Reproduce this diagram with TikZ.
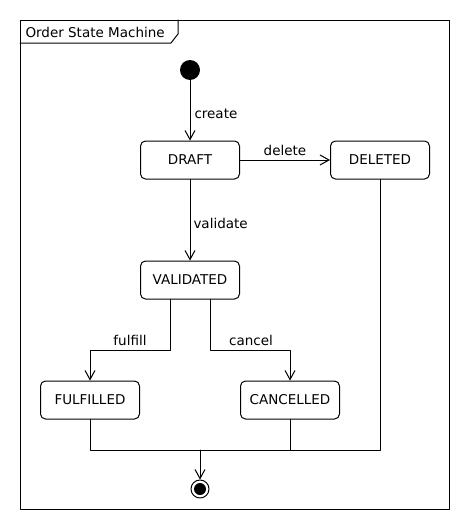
\documentclass[tikz,border=0pt]{standalone}
\usepackage{fontspec}
\setmainfont{DejaVu Sans}
\usepackage{tikz}
\usetikzlibrary{arrows.meta}

\tikzset{
  statebox/.style={draw,rounded corners=5pt,minimum width=99pt,minimum height=38pt,inner sep=0pt,font=\fontsize{13.5}{16}\selectfont},
  trlabel/.style={inner sep=0pt,font=\fontsize{13.5}{16}\selectfont},
}

\begin{document}
\begin{tikzpicture}[line cap=round,line join=round,>={Straight Barb[length=9pt,width=10pt]},x=1pt,y=-1pt,line width=1pt]
\useasboundingbox (0,0) rectangle (470,530);
% frame
\draw (20,20) rectangle (449,509);
\draw (20,43)-- (171,43)-- (178,34)-- (178,20);
\node[trlabel,anchor=west] (title) at (25,32) {Order State Machine};
% states
\node[circle,fill,inner sep=0pt,minimum size=20pt] (start) at (190,70) {};
\node[statebox] (draft) at (190,160) {DRAFT};
\node[statebox] (deleted) at (380,160) {DELETED};
\node[statebox] (validated) at (190,280) {VALIDATED};
\node[statebox] (fulfilled) at (90,400) {FULFILLED};
\node[statebox] (cancelled) at (290,400) {CANCELLED};
\node[circle,draw,inner sep=0pt,minimum size=18pt] (final) at (200,489) {};
\node[circle,fill,inner sep=0pt,minimum size=12pt] (finaldot) at (final) {};
\coordinate (join) at (200,450);
% transitions
\draw[->] (start) -- node[trlabel,anchor=west,xshift=4pt,pos=0.55] {create} (draft);
\draw[->] (draft) -- node[trlabel,anchor=south,yshift=4pt] {delete} (deleted);
\draw[->] (draft) -- node[trlabel,anchor=west,xshift=3pt,pos=0.54] {validate} (validated);
\draw[->] ([xshift=-20pt]validated.south) -- ++(0,51) coordinate (fl) -| (fulfilled.north);
\node[trlabel,anchor=south] (fulfilltxt) at (130,346) {fulfill};
\draw[->] ([xshift=20pt]validated.south) -- ++(0,51) coordinate (cl) -| (cancelled.north);
\node[trlabel,anchor=south] (canceltxt) at (251,346) {cancel};
\draw (fulfilled.south) |- (join);
\draw (cancelled.south) |- (join);
\draw (deleted.south) |- (join);
\draw[->] (join) -- (final.north);
\end{tikzpicture}
\end{document}
